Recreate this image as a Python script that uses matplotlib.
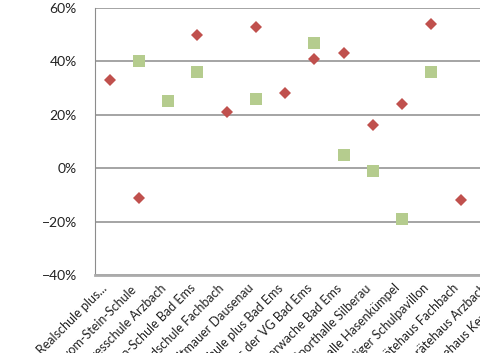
import numpy as np
import matplotlib
matplotlib.use("Agg")
import matplotlib.pyplot as plt
from matplotlib.ticker import PercentFormatter

# building names (cropped in the original picture)
gebaeude = [
    "Integrierte Gesamtschule Realschule plus...",
    "Freiherr-vom-Stein-Schule",
    "Ganztagesschule Arzbach",
    "Balthasar-Neumann-Schule Bad Ems",
    "Grundschule Fachbach",
    "Turm Stadtmauer Dausenau",
    "Realschule plus Bad Ems",
    "Rathaus der VG Bad Ems",
    "Feuerwache Bad Ems",
    "Sporthalle Silberau",
    "Turnhalle Hasenkümpel",
    "Ehemaliger Schulpavillon",
    "Gerätehaus Fachbach",
    "Gerätehaus Arzbach",
    "Gerätehaus Kemmenau",
]

# change in percent, nan = no value
serie_rot = [33, -11, np.nan, 50, 21, 53, 28, 41, 43, 16, 24, 54, -12, np.nan, np.nan]
serie_gruen = [np.nan, 40, 25, 36, np.nan, 26, np.nan, 47, 5, -1, -19, 36, np.nan, np.nan, np.nan]

yticks = [-40, -20, 0, 20, 40, 60]

plt.rcParams["font.family"] = ["Lato", "DejaVu Sans"]

fig = plt.figure(figsize=(4.81, 3.53), dpi=100)
# plot area runs past the right edge, as in the cropped original
ax = fig.add_axes([95 / 481, 78 / 353, 438.75 / 481, 267 / 353])

x = np.arange(len(gebaeude))
ax.plot(x, serie_rot, linestyle="none", marker="D", markersize=6,
        color="#C0504D", markeredgewidth=0)
ax.plot(x, serie_gruen, linestyle="none", marker="s", markersize=8,
        color="#B5CC8E", markeredgewidth=0)

ax.set_xlim(-0.5, len(gebaeude) - 0.5)
ax.set_ylim(-40, 60)
ax.set_yticks(yticks)
ax.yaxis.set_major_formatter(PercentFormatter(decimals=0))
ax.set_xticks(x)
ax.set_xticklabels(gebaeude, rotation=45, ha="right", va="top", fontsize=9)

ax.grid(axis="y", color="#8C8C8C", linewidth=1.1)
ax.set_axisbelow(True)
for s in ["top", "right"]:
    ax.spines[s].set_visible(False)
ax.spines["left"].set_color("#8C8C8C")
ax.spines["bottom"].set_color("#ABABAB")
ax.spines["bottom"].set_linewidth(2)
ax.tick_params(axis="y", length=0, pad=13, labelsize=10, labelcolor="#222222")
ax.tick_params(axis="x", length=0, pad=5, labelcolor="#222222")

plt.savefig("out.png", dpi=100)
